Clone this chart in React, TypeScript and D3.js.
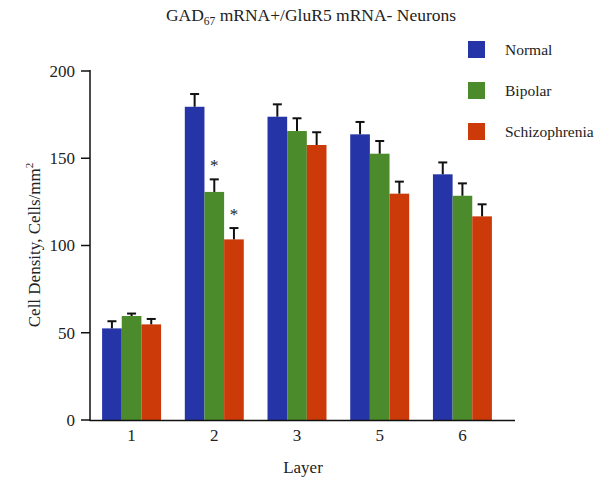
import React from "react";
import * as d3 from "d3";

const layers = ["1", "2", "3", "5", "6"];
const seriesNames = ["Normal", "Bipolar", "Schizophrenia"];
const normalVals = [52.5, 179.5, 173.8, 163.7, 140.8];
const bipolarVals = [59.6, 130.7, 165.6, 152.6, 128.5];
const schizVals = [54.8, 103.5, 157.6, 129.7, 116.7];
const normalErr = [4.1, 7.3, 7.1, 7.1, 6.8];
const bipolarErr = [1.4, 7.2, 7.3, 7.3, 7.1];
const schizErr = [3.1, 6.5, 7.3, 6.9, 6.9];
const significant = [[false, false, false, false, false], [false, true, false, false, false], [false, true, false, false, false]];
const yTicks = [0, 50, 100, 150, 200];
const colors = ["#2535a8", "#4b8b2b", "#cc3a0a"];

export default function App() {
  const W = 602, H = 482;
  const values = [normalVals, bipolarVals, schizVals];
  const errs = [normalErr, bipolarErr, schizErr];
  const y = d3.scaleLinear().domain([0, 200]).range([420, 71]);
  const x = d3.scaleBand().domain(layers).range([90.1, 503.9]).paddingInner(0.287).paddingOuter(0.145);
  const inner = d3.scaleBand().domain(seriesNames).range([0, x.bandwidth()]);
  const font = "'Liberation Serif', 'Times New Roman', serif";
  return (
    <svg width={W} height={H} style={{ position: "absolute", left: 0, top: 0, background: "#fff" }} fontFamily={font}>
      <text x={311} y={21} textAnchor="middle" fontSize={17.5} fill="#222">
        GAD<tspan fontSize={11.5} dy={4}>67</tspan>
        <tspan dy={-4}> mRNA+/GluR5 mRNA- Neurons</tspan>
      </text>
      {values.map((vals, si) =>
        vals.map((v, i) => {
          const bx = (x(layers[i]) as number) + (inner(seriesNames[si]) as number);
          const bw = inner.bandwidth();
          const cx = bx + bw / 2;
          const top = y(v);
          const capY = y(v + errs[si][i]);
          return (
            <g key={`${si}-${i}`}>
              <rect x={bx} y={top} width={bw} height={y(0) - top} fill={colors[si]} />
              <line x1={cx} x2={cx} y1={top} y2={capY} stroke="#111" strokeWidth={2} />
              <line x1={cx - 4.5} x2={cx + 4.5} y1={capY} y2={capY} stroke="#111" strokeWidth={2} />
              {significant[si][i] && (
                <text x={cx} y={capY - 8} textAnchor="middle" fontSize={17} fill="#222">*</text>
              )}
            </g>
          );
        })
      )}
      <line x1={90} x2={90} y1={70} y2={421} stroke="#111" strokeWidth={1.5} />
      <line x1={89.5} x2={515} y1={420.5} y2={420.5} stroke="#111" strokeWidth={1.5} />
      {yTicks.map((t) => (
        <g key={t}>
          <line x1={81} x2={90} y1={y(t)} y2={y(t)} stroke="#111" strokeWidth={1.5} />
          <text x={75} y={y(t)} dy="0.35em" textAnchor="end" fontSize={17} fill="#222">{t}</text>
        </g>
      ))}
      {layers.map((l) => (
        <text key={l} x={(x(l) as number) + x.bandwidth() / 2} y={441} textAnchor="middle" fontSize={17} fill="#222">{l}</text>
      ))}
      <text x={303} y={473} textAnchor="middle" fontSize={17} fill="#222">Layer</text>
      <text transform="translate(40,245) rotate(-90)" textAnchor="middle" fontSize={17} fill="#222">
        Cell Density, Cells/mm<tspan fontSize={11} dy={-7}>2</tspan>
      </text>
      {seriesNames.map((n, i) => (
        <g key={n}>
          <rect x={468} y={41 + i * 41} width={17} height={17} fill={colors[i]} />
          <text x={505} y={50 + i * 41} dy="0.35em" fontSize={15.5} fill="#222">{n}</text>
        </g>
      ))}
    </svg>
  );
}
